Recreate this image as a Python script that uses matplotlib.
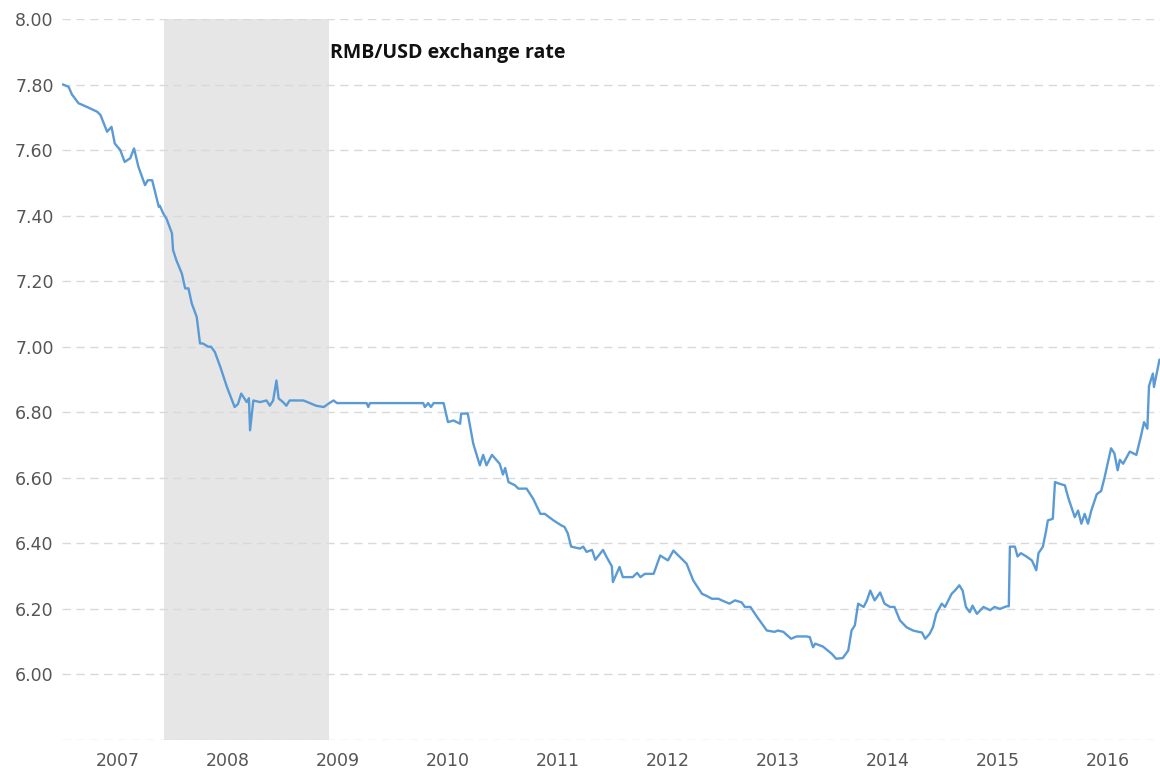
import numpy as np
import matplotlib
matplotlib.use("Agg")
from matplotlib import pyplot as plt

plt.rcParams["font.family"] = "DejaVu Sans"

# RMB/USD exchange rate (x = decimal year)
t_year = [2007.00, 2007.05, 2007.08, 2007.14, 2007.215, 2007.31, 2007.34, 2007.40, 2007.44, 2007.47,
          2007.52, 2007.56, 2007.61, 2007.645, 2007.685, 2007.745, 2007.77, 2007.81, 2007.87, 2007.88,
          2007.91, 2007.94, 2007.99, 2008.00, 2008.03, 2008.08, 2008.11, 2008.14, 2008.17, 2008.215,
          2008.245, 2008.27, 2008.32, 2008.345, 2008.38, 2008.43, 2008.49, 2008.56, 2008.59, 2008.62,
          2008.67, 2008.69, 2008.70, 2008.73, 2008.79, 2008.85, 2008.88, 2008.91, 2008.94, 2008.96,
          2009.00, 2009.03, 2009.06, 2009.09, 2009.185, 2009.245, 2009.30, 2009.37, 2009.43, 2009.46,
          2009.49, 2009.76, 2009.775, 2009.79, 2010.275, 2010.29, 2010.32, 2010.345, 2010.37, 2010.46,
          2010.50, 2010.55, 2010.61, 2010.62, 2010.68, 2010.73, 2010.79, 2010.82, 2010.85, 2010.90,
          2010.97, 2011.00, 2011.02, 2011.05, 2011.11, 2011.14, 2011.215, 2011.275, 2011.34, 2011.38,
          2011.46, 2011.53, 2011.56, 2011.59, 2011.62, 2011.70, 2011.73, 2011.76, 2011.81, 2011.84,
          2011.91, 2011.94, 2011.99, 2012.00, 2012.06, 2012.09, 2012.18, 2012.22, 2012.25, 2012.29,
          2012.37, 2012.43, 2012.50, 2012.55, 2012.58, 2012.67, 2012.73, 2012.81, 2012.85, 2012.90,
          2012.96, 2012.99, 2013.06, 2013.11, 2013.17, 2013.20, 2013.25, 2013.31, 2013.40, 2013.47,
          2013.50, 2013.55, 2013.62, 2013.67, 2013.76, 2013.79, 2013.82, 2013.84, 2013.91, 2013.99,
          2014.03, 2014.09, 2014.14, 2014.17, 2014.20, 2014.23, 2014.28, 2014.31, 2014.34, 2014.38,
          2014.43, 2014.47, 2014.52, 2014.56, 2014.61, 2014.67, 2014.73, 2014.78, 2014.81, 2014.84,
          2014.88, 2014.91, 2014.94, 2014.99, 2015.02, 2015.08, 2015.11, 2015.15, 2015.18, 2015.21,
          2015.245, 2015.27, 2015.31, 2015.37, 2015.43, 2015.47, 2015.52, 2015.58, 2015.60, 2015.61,
          2015.655, 2015.68, 2015.71, 2015.76, 2015.81, 2015.85, 2015.87, 2015.91, 2015.94, 2015.955,
          2016.00, 2016.02, 2016.06, 2016.11, 2016.14, 2016.17, 2016.20, 2016.23, 2016.26, 2016.29,
          2016.32, 2016.35, 2016.40, 2016.44, 2016.47, 2016.53, 2016.56, 2016.59, 2016.61, 2016.64,
          2016.70, 2016.76, 2016.80, 2016.83, 2016.86, 2016.875, 2016.91, 2016.92, 2016.97]
rate = [7.800, 7.793, 7.770, 7.743, 7.732, 7.717, 7.707, 7.656, 7.671, 7.620,
        7.600, 7.564, 7.575, 7.605, 7.549, 7.493, 7.508, 7.508, 7.427, 7.430,
        7.407, 7.391, 7.346, 7.295, 7.264, 7.223, 7.178, 7.178, 7.132, 7.091,
        7.010, 7.010, 7.000, 7.000, 6.984, 6.938, 6.877, 6.816, 6.825, 6.857,
        6.831, 6.843, 6.745, 6.836, 6.831, 6.836, 6.820, 6.836, 6.897, 6.842,
        6.831, 6.820, 6.836, 6.836, 6.836, 6.828, 6.820, 6.816, 6.830, 6.836,
        6.828, 6.828, 6.816, 6.828, 6.828, 6.816, 6.828, 6.816, 6.828, 6.828,
        6.770, 6.775, 6.765, 6.796, 6.796, 6.704, 6.638, 6.670, 6.638, 6.670,
        6.643, 6.610, 6.630, 6.587, 6.577, 6.567, 6.567, 6.536, 6.490, 6.490,
        6.470, 6.455, 6.450, 6.430, 6.390, 6.384, 6.390, 6.374, 6.380, 6.350,
        6.380, 6.360, 6.330, 6.282, 6.328, 6.297, 6.297, 6.310, 6.297, 6.307,
        6.307, 6.363, 6.348, 6.378, 6.368, 6.338, 6.287, 6.246, 6.240, 6.231,
        6.231, 6.226, 6.216, 6.226, 6.220, 6.206, 6.206, 6.176, 6.134, 6.130,
        6.134, 6.130, 6.109, 6.116, 6.116, 6.114, 6.083, 6.094, 6.085, 6.063,
        6.048, 6.050, 6.073, 6.134, 6.150, 6.216, 6.206, 6.226, 6.256, 6.226,
        6.250, 6.216, 6.206, 6.206, 6.165, 6.144, 6.134, 6.130, 6.128, 6.109,
        6.124, 6.144, 6.185, 6.216, 6.206, 6.246, 6.256, 6.272, 6.256, 6.206,
        6.190, 6.210, 6.185, 6.206, 6.196, 6.206, 6.200, 6.208, 6.208, 6.390,
        6.390, 6.360, 6.370, 6.360, 6.348, 6.318, 6.370, 6.390, 6.440, 6.470,
        6.475, 6.587, 6.582, 6.577, 6.540, 6.510, 6.480, 6.500, 6.460, 6.490,
        6.460, 6.500, 6.550, 6.560, 6.600, 6.690, 6.675, 6.623, 6.655, 6.643,
        6.680, 6.670, 6.725, 6.770, 6.750, 6.880, 6.918, 6.877, 6.960]

recession = (2007.92, 2009.42)
years = list(range(2007, 2017))
y_ticks = [6.0, 6.2, 6.4, 6.6, 6.8, 7.0, 7.2, 7.4, 7.6, 7.8, 8.0]

fig = plt.figure(figsize=(11.6, 7.75), dpi=100)
ax = fig.add_axes([62 / 1160, 1 - 740 / 775, 1 - 62 / 1160, (740 - 19) / 775])

ax.axvspan(recession[0], recession[1], color="#e6e6e6", lw=0, zorder=0)
ax.plot(t_year, rate, color="#5b9bd5", lw=1.7, zorder=3)

ax.set_xlim(2006.99, 2016.975)
ax.set_ylim(5.8, 8.0)
ax.set_yticks([5.8] + y_ticks)
ax.set_yticklabels([""] + ["%.2f" % v for v in y_ticks])
ax.set_xticks([y + 0.5 for y in years])
ax.set_xticklabels([str(y) for y in years])
ax.tick_params(axis="both", length=0, labelsize=12.5, labelcolor="#555555")
ax.tick_params(axis="y", pad=6)
ax.tick_params(axis="x", pad=9)
ax.grid(axis="y", color="#d9d9d9", lw=1, linestyle=(0, (6, 4)), zorder=1)
ax.set_axisbelow(False)
for s in ax.spines.values():
    s.set_visible(False)

fig.text(330 / 1160, 1 - 58 / 775, "RMB/USD exchange rate", fontsize=14, fontweight="bold",
         family="Open Sans", color="#111111", va="baseline", ha="left")

fig.savefig("out.png", dpi=100)
